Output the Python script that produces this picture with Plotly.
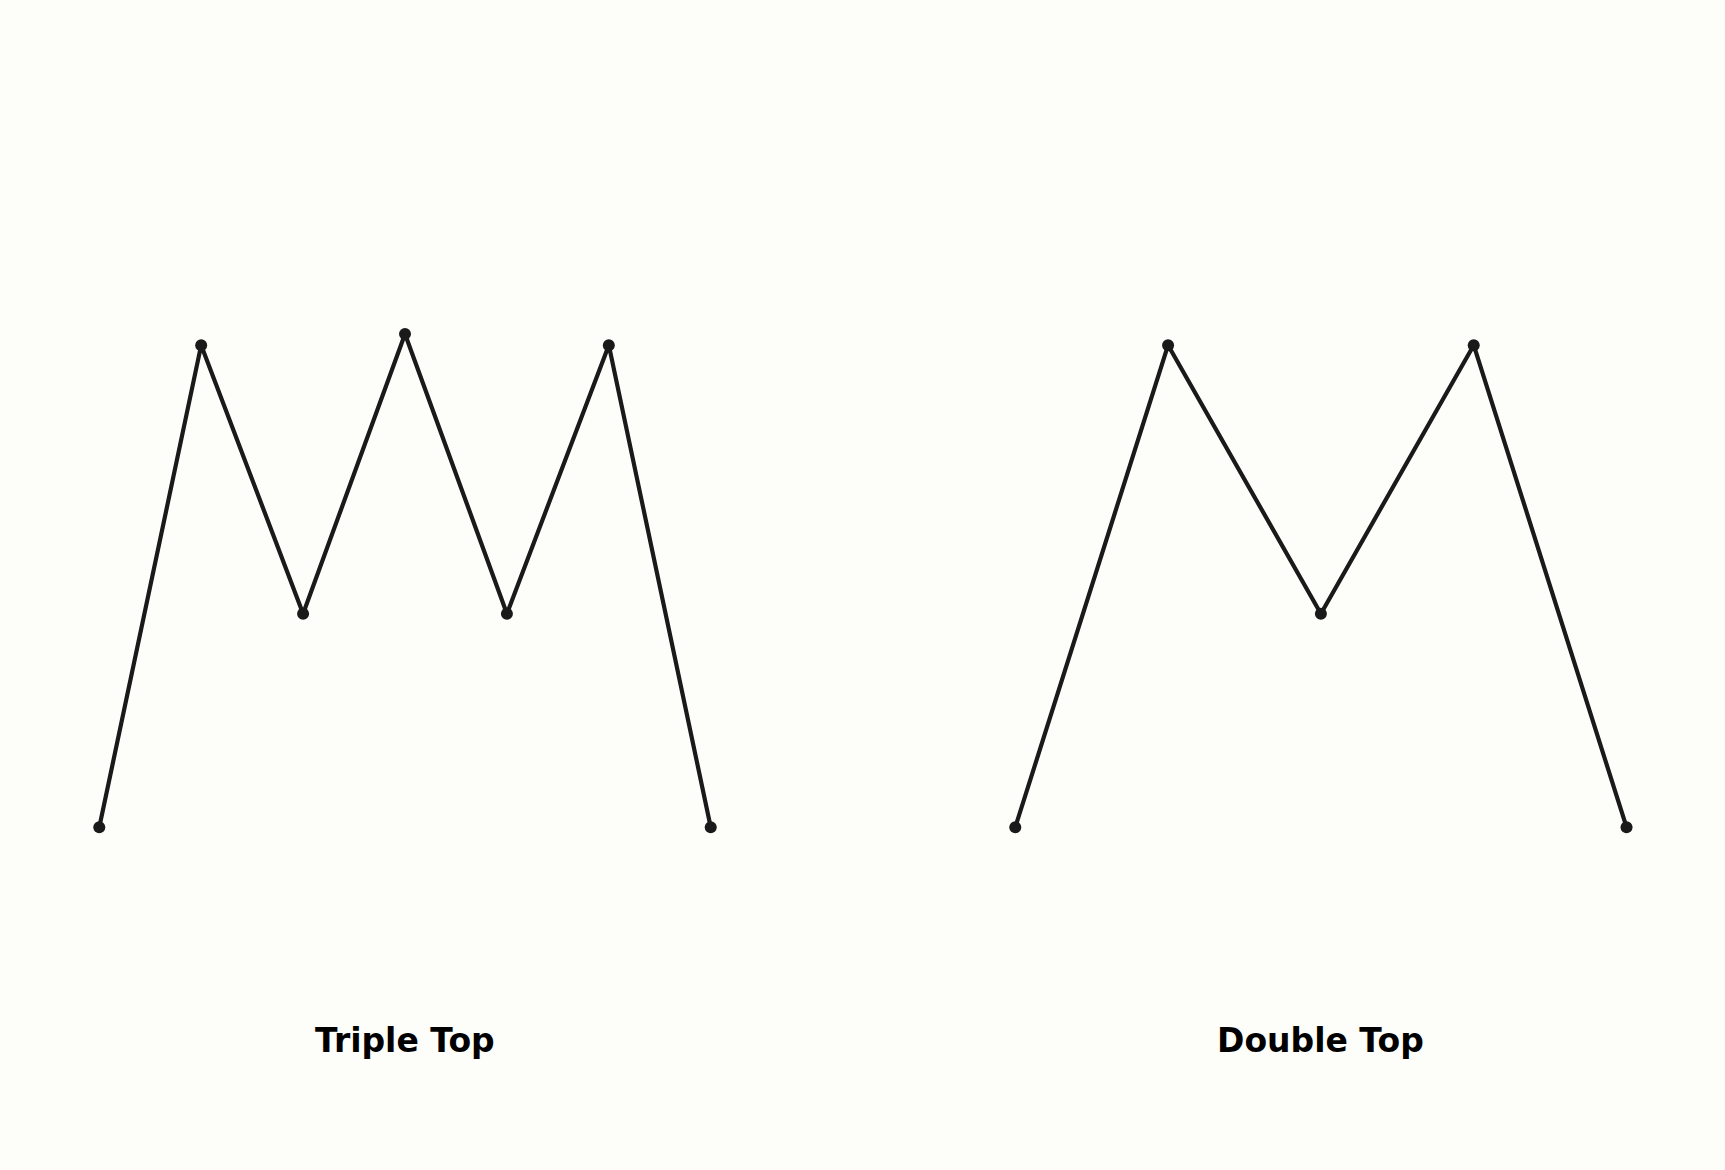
import plotly.graph_objects as go

# chart values
triple_x = [0, 1, 2, 3, 4, 5, 6]
triple_y = [0, 10, 4.43, 10.23, 4.43, 10, 0]
double_x = [0, 1, 2, 3, 4]
double_y = [0, 10, 4.43, 10, 0]
titles = ["Triple Top", "Double Top"]

BG = "#fdfdf9"
INK = "#1a1a1a"
LINE_WIDTH = 4.2
MARKER_SIZE = 12

fig = go.Figure()
fig.add_trace(
    go.Scatter(
        x=triple_x, y=triple_y, mode="lines+markers",
        line=dict(color=INK, width=LINE_WIDTH),
        marker=dict(color=INK, size=MARKER_SIZE),
        xaxis="x", yaxis="y", hoverinfo="skip",
    )
)
fig.add_trace(
    go.Scatter(
        x=double_x, y=double_y, mode="lines+markers",
        line=dict(color=INK, width=LINE_WIDTH),
        marker=dict(color=INK, size=MARKER_SIZE),
        xaxis="x2", yaxis="y2", hoverinfo="skip",
    )
)

hidden = dict(visible=False, showgrid=False, zeroline=False, fixedrange=True)
fig.update_layout(
    width=1725, height=1170,
    margin=dict(l=0, r=0, t=0, b=0),
    paper_bgcolor=BG, plot_bgcolor=BG,
    showlegend=False,
    xaxis=dict(domain=[0.03983, 0.42974], range=[-0.3, 6.3], **hidden),
    yaxis=dict(domain=[0, 1], range=[-7.11, 17.16], **hidden),
    xaxis2=dict(domain=[0.57084, 0.96064], range=[-0.2, 4.2], **hidden),
    yaxis2=dict(domain=[0, 1], range=[-7.11, 17.16], anchor="x2", **hidden),
)

# pattern names under each panel
for ref, xc, text in [("x", 3, titles[0]), ("x2", 2, titles[1])]:
    fig.add_annotation(
        x=xc, xref=ref, y=0.111, yref="paper",
        text=f"<b>{text}</b>", showarrow=False,
        font=dict(family="DejaVu Sans", size=33, color="#000000"),
        xanchor="center", yanchor="middle",
    )

# drop the page margin so the figure sits at the window corner
fig.write_html(
    "out.html",
    config={"displayModeBar": False},
    post_script="document.body.style.margin='0';document.body.style.background='" + BG + "';",
)
